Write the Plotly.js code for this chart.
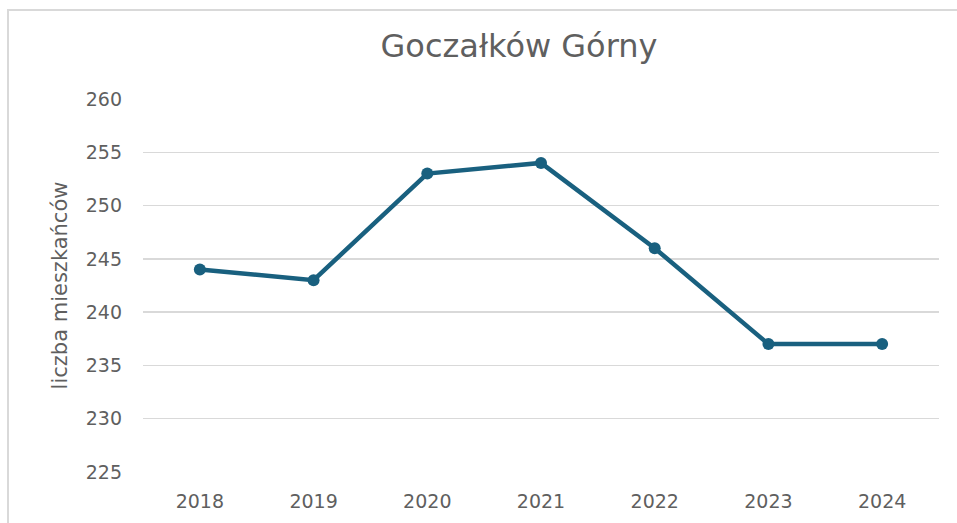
<!DOCTYPE html>
<html><head><meta charset="utf-8">
<script src="https://cdn.plot.ly/plotly-3.0.1.min.js"></script>
<style>html,body{margin:0;padding:0;background:#fff;}#c{width:957px;height:523px;}</style>
</head><body><div id="c"></div>
<script>
const years = ['2018','2019','2020','2021','2022','2023','2024'];
const residents = [244, 243, 253, 254, 246, 237, 237];
const yTicks = [225,230,235,240,245,250,255,260];

const font = '"DejaVu Sans", sans-serif';
const txt = '#5f5f5f';
const trace = {
  x: years, y: residents, type: 'scatter', mode: 'lines+markers',
  line: {color: '#19607f', width: 4.5},
  marker: {color: '#19607f', size: 12},
  hoverinfo: 'skip'
};
const L = 143, R = 939, T = 99, B = 472;
const pw = R - L, ph = B - T;
const layout = {
  width: 957, height: 523,
  margin: {l: L, r: 957 - R, t: T, b: 523 - B},
  paper_bgcolor: '#fff', plot_bgcolor: '#fff',
  showlegend: false,
  title: {text: 'Goczałków Górny', x: 519/957, xanchor: 'center', y: 1 - 46/523, yanchor: 'middle',
          font: {family: font, size: 32, color: txt}},
  xaxis: {type: 'category', range: [-0.5, 6.5], showgrid: false, zeroline: false, showline: false,
          ticks: '', tickfont: {family: font, size: 19, color: txt}, ticklabelstandoff: 16},
  yaxis: {range: [225, 260], tickvals: yTicks, showgrid: true, gridcolor: '#d9d9d9', gridwidth: 1.5,
          zeroline: false, showline: false, ticks: '', ticklabelstandoff: 20,
          tickfont: {family: font, size: 19, color: txt},
          title: {text: 'liczba mieszkańców', standoff: 12, font: {family: font, size: 21, color: txt}}},
  shapes: [{type: 'rect', xref: 'paper', yref: 'paper',
            x0: (8 - L)/pw, x1: (980 - L)/pw, y0: (B - 540)/ph, y1: (B - 10)/ph,
            line: {color: '#d9d9d9', width: 2}, fillcolor: 'rgba(0,0,0,0)', layer: 'below'}]
};
Plotly.newPlot('c', [trace], layout, {displayModeBar: false, staticPlot: true});
</script></body></html>
